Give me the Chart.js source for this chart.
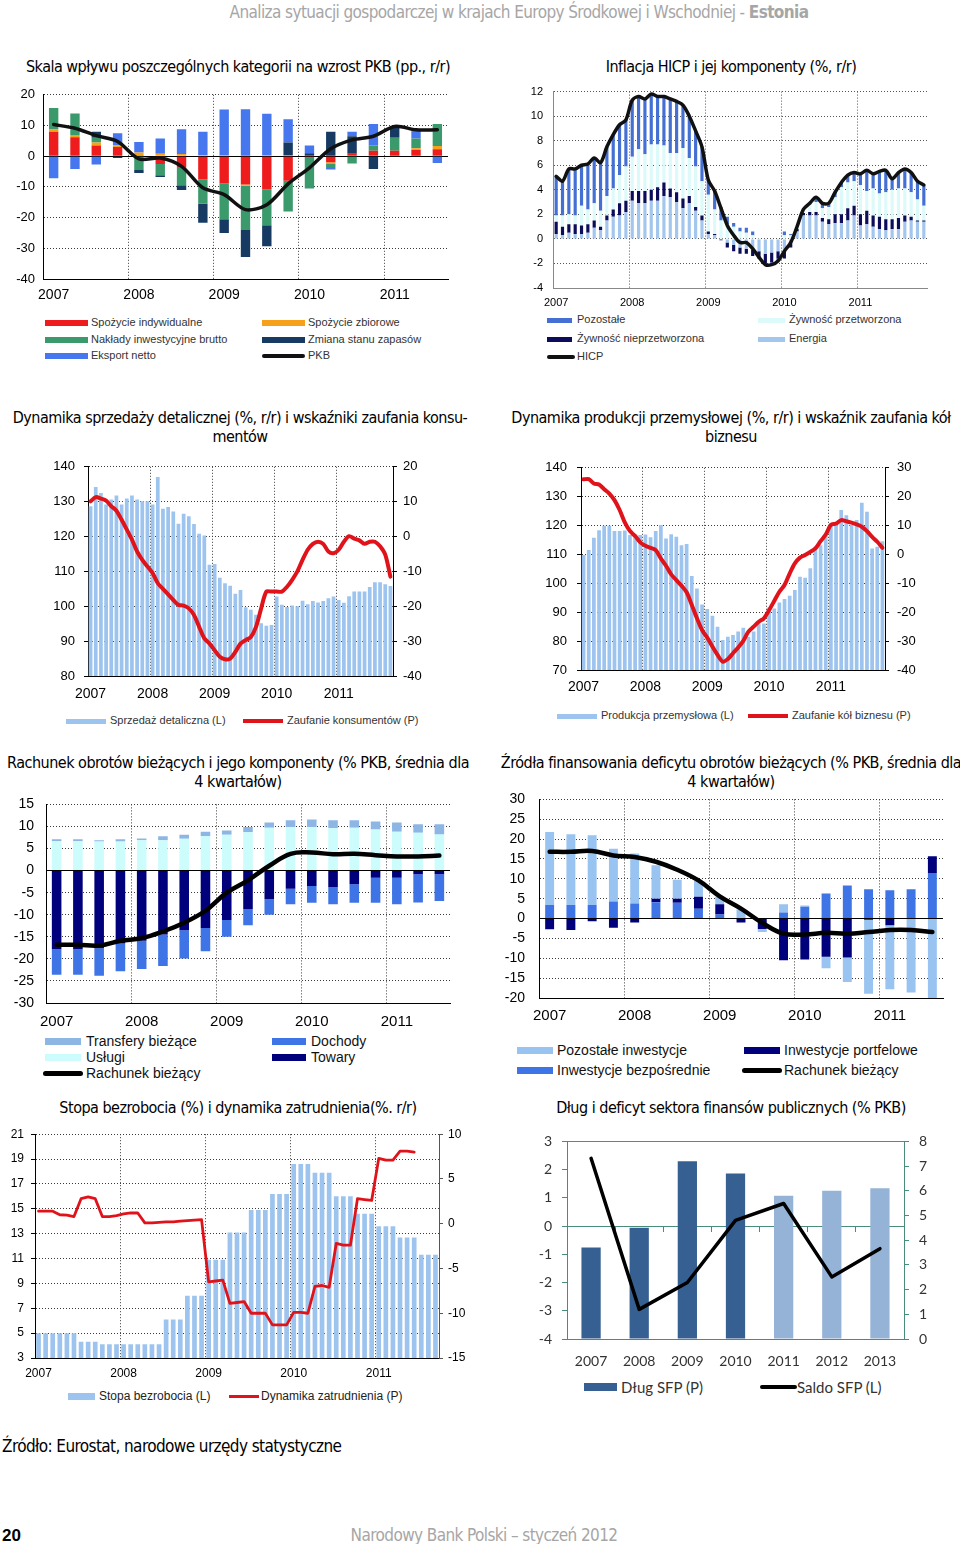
<!DOCTYPE html>
<html lang="pl">
<head>
<meta charset="utf-8">
<title>Estonia</title>
<script src="https://cdn.jsdelivr.net/npm/chart.js@4.4.1/dist/chart.umd.min.js"></script>
<style>
  html, body { margin: 0; padding: 0; background: #fff; }
  body { width: 960px; height: 1544px; position: relative; overflow: hidden; font-family: 'Liberation Sans', Arial, sans-serif; }
  .t { position: absolute; white-space: nowrap; font-family: 'Liberation Sans Narrow', 'DejaVu Sans Condensed', 'Liberation Sans', sans-serif; font-size: 16px; line-height: 19px; color: #000; text-align: center; letter-spacing: -0.5px; }
  .big { font-size: 17px; letter-spacing: -0.6px; }
  canvas { position: absolute; }
  .lg { position: absolute; white-space: nowrap; }
  .sw { position: absolute; }
</style>
</head>
<body>
<div class="t big" style="left:0;width:1038px;top:3px;color:#a6a6a6;">Analiza sytuacji gospodarczej w krajach Europy Środkowej i Wschodniej - <b>Estonia</b></div>

<div class="t" style="left:-62px;width:600px;top:57px;">Skala wpływu poszczególnych kategorii na wzrost PKB (pp., r/r)</div>
<div class="t" style="left:431px;width:600px;top:57px;">Inflacja HICP i jej komponenty (%, r/r)</div>
<div class="t" style="left:-60px;width:600px;top:408px;">Dynamika sprzedaży detalicznej (%, r/r) i wskaźniki zaufania konsu-<br>mentów</div>
<div class="t" style="left:431px;width:600px;top:408px;">Dynamika produkcji przemysłowej (%, r/r) i wskaźnik zaufania kół<br>biznesu</div>
<div class="t" style="left:-62px;width:600px;top:753px;">Rachunek obrotów bieżących i jego komponenty (% PKB, średnia dla<br>4 kwartałów)</div>
<div class="t" style="left:431px;width:600px;top:753px;">Źródła finansowania deficytu obrotów bieżących (% PKB, średnia dla<br>4 kwartałów)</div>
<div class="t" style="left:-62px;width:600px;top:1098px;">Stopa bezrobocia (%) i dynamika zatrudnienia(%. r/r)</div>
<div class="t" style="left:431px;width:600px;top:1098px;">Dług i deficyt sektora finansów publicznych (% PKB)</div>

<div class="t big" style="left:2px;top:1437px;text-align:left;">Źródło: Eurostat, narodowe urzędy statystyczne</div>
<div class="t big" style="left:2px;top:1526px;font-weight:bold;text-align:left;letter-spacing:0;font-family:'Liberation Sans',sans-serif;">20</div>
<div class="t big" style="left:184px;width:600px;top:1526px;color:#a6a6a6;">Narodowy Bank Polski – styczeń 2012</div>

<script>
// ---------- categories ----------
const years5 = ['2007', '2008', '2009', '2010', '2011'];
const years8 = ['2007', '2008', '2009', '2010', '2011', '2012', '2013'];

function quarterLabels(startYear, count) {
    const out = [];
    for (let i = 0; i < count; i++) out.push((startYear + Math.floor(i / 4)) + ' Q' + (i % 4 + 1));
    return out;
}
function monthLabels(startYear, count) {
    const out = [];
    for (let i = 0; i < count; i++) out.push((startYear + Math.floor(i / 12)) + '-' + String(i % 12 + 1).padStart(2, '0'));
    return out;
}
const quarters19 = quarterLabels(2007, 19);
const months59 = monthLabels(2007, 59);
const months57 = monthLabels(2007, 57);

// ---------- 1. PKB contributions (pp.) ----------
const spozycieInd = [8.0, 6.2, 3.5, 3.0, 0.3, -2.5, -3.5, -7.5, -8.8, -9.2, -10.8, -8.0, -0.5, -2.0, 0.8, 1.8, 1.8, 2.0, 2.3];
const spozycieZb = [0.7, 0.7, 1.0, 0.6, 0.9, 0.8, 0.7, 0.4, 0.2, -0.4, 0.2, 0.2, 0.0, -0.5, 0.0, 0.0, 0.0, 0.6, 1.0];
const naklady = [7.0, 7.0, 1.5, 0.0, -4.5, -3.7, -6.0, -8.0, -11.7, -14.4, -11.7, -10.0, -10.0, -1.0, -2.4, 1.7, 4.2, 3.2, 7.2];
const zapasy = [0.0, 0.0, 2.0, -0.6, -1.0, -0.6, -1.5, -6.2, -4.5, -8.8, -6.8, 4.3, 1.0, 8.0, 5.7, -4.2, 3.5, 0.0, 0.0];
const eksportNetto = [-7.2, -4.2, -2.7, 3.9, 3.4, 5.0, 8.1, 7.6, 15.0, 15.3, 13.6, 7.5, 2.5, -0.8, 1.5, 7.0, 0.0, 2.7, -2.2];
const pkb = [10.3, 9.1, 6.7, 4.8, -0.9, -0.6, -3.3, -10.3, -12.5, -17.4, -15.8, -9.0, -3.8, 2.4, 5.3, 6.5, 9.7, 8.6, 8.6];

// ---------- 2. HICP components (%) ----------
const energia = [0.4, 0.3, 0.5, 0.4, 0.4, 0.5, 0.9, 0.7, 1.5, 1.8, 1.9, 2.2,
    3.1, 2.9, 2.9, 3.1, 3.1, 3.5, 3.4, 3.0, 2.5, 2.9, 2.3, 1.5,
    0.4, 0.3, 0.0, -0.3, -0.5, -0.7, -0.8, -0.9, -1.0, -1.2, -1.1, -1.0,
    -1.0, -0.4, 0.6, 1.9, 1.9, 1.9, 1.4, 1.2, 1.3, 1.3, 1.5, 1.9,
    1.1, 1.2, 1.0, 0.8, 0.7, 0.8, 0.8, 1.4, 1.5, 1.4, 1.4];
const zywnoscNieprz = [1.0, 0.7, 0.7, 0.8, 0.7, 0.7, 0.6, 0.3, 0.4, 0.6, 1.0, 0.9,
    0.8, 1.0, 1.0, 0.9, 1.1, 1.1, 0.7, 0.8, 0.8, 0.6, 0.3, 0.4,
    0.2, 0.1, -0.1, -0.4, -0.5, -0.5, -0.4, -0.5, -0.6, -0.8, -0.8, -0.6,
    -0.6, -0.3, 0.2, 0.2, 0.3, 0.3, 0.3, 0.4, 0.7, 0.7, 1.0, 0.8,
    0.9, 1.1, 0.9, 1.0, 0.9, 0.8, 0.9, 0.5, 0.3, 0.1, 0.1];
const zywnoscPrzetw = [0.5, 0.9, 0.8, 0.7, 1.6, 1.2, 1.4, 1.3, 1.6, 1.7, 2.3, 2.8,
    2.8, 3.4, 3.0, 3.7, 3.5, 3.0, 2.9, 3.2, 4.1, 3.1, 3.3, 2.8,
    3.0, 2.0, 1.5, 1.2, 1.0, 0.6, 0.5, 0.3, 0.1, 0.0, 0.0, 0.0,
    0.3, 0.3, 0.2, 0.3, 0.6, 0.8, 0.8, 1.0, 1.4, 2.2, 2.1, 2.0,
    2.4, 1.6, 2.2, 1.9, 2.2, 2.4, 2.4, 2.2, 2.0, 1.7, 1.2];
const pozostale = [3.2, 2.8, 3.7, 3.8, 3.3, 3.7, 3.7, 3.9, 4.0, 4.4, 4.1, 3.8,
    4.6, 4.3, 4.5, 4.1, 3.9, 4.0, 4.4, 4.2, 3.5, 3.4, 2.9, 2.8,
    1.2, 1.5, 1.1, 0.6, 0.3, 0.3, 0.4, 0.3, 0.0, -0.1, -0.2, -0.2,
    0.3, 0.1, 0.0, 0.0, 0.1, 0.4, 0.4, 0.3, 0.4, 0.4, 0.6, 0.7,
    0.9, 1.7, 1.2, 1.8, 1.8, 0.9, 1.3, 1.6, 1.6, 1.5, 1.7];
const hicp = [5.1, 4.7, 5.7, 5.7, 6.0, 6.1, 6.6, 6.2, 7.5, 8.5, 9.3, 9.7,
    11.3, 11.6, 11.4, 11.8, 11.6, 11.6, 11.4, 11.2, 10.9, 10.0, 8.8, 7.5,
    4.8, 3.9, 2.5, 1.1, 0.3, -0.3, -0.3, -0.8, -1.5, -2.1, -2.1, -1.8,
    -1.0, -0.3, 1.0, 2.4, 2.9, 3.4, 2.9, 2.9, 3.8, 4.6, 5.2, 5.4,
    5.3, 5.6, 5.3, 5.5, 5.6, 4.9, 5.4, 5.7, 5.4, 4.7, 4.4];

// ---------- 3. retail sales and consumer confidence ----------
const sprzedaz = [128.7, 134.2, 132.5, 129.2, 130.6, 131.8, 129.2, 130.9, 131.8, 130.6, 130.1, 130.1,
    129.2, 137.1, 128.0, 128.5, 127.2, 123.7, 126.5, 125.8, 123.6, 120.8, 120.3, 111.9,
    112.1, 108.2, 106.6, 105.9, 103.6, 104.7, 99.7, 99.0, 97.6, 95.1, 94.4, 94.6,
    102.8, 100.4, 99.8, 100.2, 100.0, 101.6, 100.6, 101.5, 101.1, 101.5, 102.3, 102.8,
    101.8, 101.0, 102.9, 104.2, 104.2, 104.2, 105.5, 106.9, 106.9, 106.3, 105.8];
const zaufanieKons = [10.1, 11.3, 10.9, 10.3, 8.7, 7.4, 4.8, 2.0, -0.9, -4.3, -6.7, -8.6,
    -10.5, -13.4, -15.0, -16.6, -18.2, -19.6, -19.8, -20.6, -22.5, -25.9, -29.2, -30.7,
    -32.6, -34.5, -35.2, -35.0, -33.1, -30.7, -29.7, -28.8, -25.9, -20.6, -15.8, -15.8,
    -15.8, -15.8, -14.4, -12.4, -10.0, -6.7, -3.8, -2.1, -1.5, -2.1, -4.3, -4.8,
    -3.8, -1.5, 0.1, -0.6, -1.1, -2.1, -1.5, -1.5, -2.8, -5.2, -11.5];

// ---------- 4. industrial production and business confidence ----------
const produkcja = [109.8, 111.5, 115.8, 118.4, 119.9, 119.9, 118.1, 118.1, 118.3, 116.7, 116.1, 116.7,
    116.9, 116.0, 118.1, 120.2, 115.5, 117.0, 116.1, 113.2, 113.6, 102.5, 98.2, 92.7,
    91.1, 88.8, 85.0, 80.4, 81.5, 82.1, 83.3, 84.6, 81.5, 83.3, 86.1, 86.1,
    91.6, 91.3, 93.4, 94.6, 95.7, 97.7, 102.3, 101.9, 105.2, 112.7, 113.2, 116.7,
    120.7, 121.3, 125.4, 123.6, 120.2, 121.9, 127.9, 124.8, 112.1, 112.7, 114.6];
const zaufanieBiz = [26.0, 26.1, 24.6, 24.2, 22.6, 21.1, 18.8, 15.4, 11.1, 8.1, 6.4, 4.2,
    3.0, 2.3, 1.5, -1.4, -3.9, -6.9, -8.9, -10.8, -13.1, -17.5, -22.1, -26.2,
    -28.8, -31.9, -34.8, -37.1, -36.2, -34.2, -32.2, -29.9, -26.7, -25.0, -23.3, -22.1,
    -19.3, -16.1, -12.9, -10.6, -6.6, -3.1, -1.1, -0.2, 0.9, 2.1, 4.6, 6.9,
    10.2, 10.7, 11.9, 11.5, 11.0, 10.4, 9.6, 8.1, 6.1, 4.4, 2.3];

// ---------- 5. current account components (% PKB, 4Q avg) ----------
const uslugi = [6.7, 6.7, 6.6, 6.6, 6.9, 6.9, 7.2, 7.8, 8.1, 8.7, 9.7, 9.9, 9.9, 9.6, 9.7, 9.3, 8.8, 8.6, 8.2];
const transfery = [0.4, 0.4, 0.3, 0.5, 0.4, 0.9, 0.9, 1.0, 1.0, 1.2, 1.2, 1.5, 1.7, 1.8, 1.7, 1.8, 2.1, 1.9, 2.3];
const towary = [-17.8, -17.8, -17.6, -16.5, -15.9, -14.5, -13.5, -13.0, -11.2, -8.7, -6.5, -4.1, -3.5, -3.8, -3.1, -1.6, -1.6, -0.8, -0.8];
const dochody = [-5.8, -5.8, -6.2, -6.3, -6.4, -7.1, -6.4, -5.3, -3.8, -3.7, -3.5, -3.5, -3.8, -3.8, -4.2, -5.7, -6.0, -6.4, -6.1];
const rachunekBiezacy = [-16.8, -16.8, -17.0, -15.9, -15.3, -13.8, -11.8, -9.1, -5.0, -2.2, 1.1, 3.8, 4.1, 3.7, 3.8, 3.5, 3.2, 3.2, 3.4];

// ---------- 6. financing of the CA deficit (% PKB, 4Q avg) ----------
const invBezposrednie = [3.4, 3.4, 3.4, 4.3, 3.8, 4.1, 4.0, 2.5, 1.0, 0.0, 0.0, 1.5, 3.0, 6.3, 8.3, 7.4, 7.1, 7.4, 11.5];
const invPortfelowe = [-2.7, -2.9, -0.7, -2.3, -1.0, 0.9, 1.0, 3.0, 2.6, -1.0, -2.6, -10.5, -10.3, -9.6, -9.8, -0.3, -1.7, 0.0, 4.2];
const invPozostale = [18.4, 17.8, 17.6, 13.3, 12.6, 8.4, 4.8, 4.0, 1.9, 2.3, -0.8, 2.1, 0.3, -2.9, -6.2, -18.6, -16.1, -18.6, -20.0];
const rachunekFin = [16.8, 16.8, 17.0, 15.9, 15.5, 14.3, 12.3, 9.6, 5.6, 2.5, -1.1, -3.8, -4.0, -3.6, -3.8, -3.4, -2.9, -2.9, -3.4];

// ---------- 7. unemployment rate and employment growth ----------
const bezrobocie = [5.0, 5.0, 5.0, 5.0, 5.0, 5.0, 4.3, 4.3, 4.3, 4.1, 4.1, 4.1,
    4.1, 4.1, 4.1, 4.1, 4.1, 4.1, 6.1, 6.1, 6.1, 8.0, 8.0, 8.0,
    10.9, 10.9, 10.9, 13.1, 13.1, 13.1, 14.9, 14.9, 14.9, 16.2, 16.2, 16.2,
    18.6, 18.6, 18.6, 17.9, 17.9, 17.9, 16.0, 16.0, 16.0, 14.6, 14.6, 14.6,
    13.6, 13.6, 13.6, 12.7, 12.7, 12.7, 11.3, 11.3, 11.3];
const zatrudnienie = [1.4, 1.4, 1.4, 1.0, 0.95, 0.8, 2.8, 3.0, 2.8, 0.8, 0.8, 0.9,
    1.1, 1.2, 1.2, 0.1, 0.1, 0.15, 0.2, 0.2, 0.3, 0.35, 0.4, 0.45,
    -6.5, -6.4, -6.3, -8.9, -8.8, -8.7, -10.0, -10.0, -10.0, -11.3, -11.3, -11.3,
    -9.9, -9.9, -10.0, -7.0, -6.9, -7.1, -2.2, -2.4, -2.4, 2.8, 2.7, 2.6,
    7.3, 7.1, 7.1, 8.1, 8.1, 8.0, null, null, null];

// ---------- 8. public finances (% PKB) ----------
const dlugSFP = [3.7, 4.5, 7.2, 6.7, 5.8, 6.0, 6.1];
const saldoSFP = [2.4, -2.95, -2.0, 0.2, 0.8, -1.8, -0.8];
const dlugColors = ['#376092', '#376092', '#376092', '#376092', '#95b3d7', '#95b3d7', '#95b3d7'];

// ---------- helpers ----------
Chart.defaults.font.family = "'Liberation Sans', Arial, sans-serif";
Chart.defaults.color = '#000';
Chart.defaults.animation = false;
Chart.defaults.plugins.legend.display = false;
Chart.defaults.plugins.tooltip.enabled = false;

const GRID = '#3a3a3a';
const DOT = [1, 2];
const TEAL = '#4a8c7c';

// place the canvas so that the plot area lands on box (page coordinates)
function build(box, cfg, hasRight) {
    const c = document.createElement('canvas');
    let w = box.x1 - box.x0 + box.ml + box.mr;
    let h = box.y1 - box.y0 + box.mt + box.mb;
    let left = box.x0 - box.ml;
    let top = box.y0 - box.mt;
    c.width = w;
    c.height = h;
    c.style.left = left + 'px';
    c.style.top = top + 'px';
    c.style.width = w + 'px';
    c.style.height = h + 'px';
    document.body.appendChild(c);
    cfg.options.responsive = false;
    cfg.options.maintainAspectRatio = false;
    cfg.options.layout = { padding: { top: box.mt, left: 0, right: hasRight ? 0 : box.mr, bottom: 0 } };
    const chart = new Chart(c, cfg);

    // the layout may push the plot area around a bit: move/grow the canvas to compensate
    for (let k = 0; k < 3; k++) {
        const ca = chart.chartArea;
        const eTop = Math.round(top + ca.top - box.y0);
        const eLeft = Math.round(left + ca.left - box.x0);
        const eBottom = Math.round(box.y1 - (top + ca.bottom));
        const eRight = Math.round(box.x1 - (left + ca.right));
        if (!eTop && !eLeft && !eBottom && !eRight) break;
        top -= eTop;
        left -= eLeft;
        h += eTop + eBottom;
        w += eLeft + eRight;
        c.style.left = left + 'px';
        c.style.top = top + 'px';
        chart.resize(w, h);
    }
    return chart;
}

function bar(label, data, color, bp) {
    return { label, data, backgroundColor: color, barPercentage: bp, categoryPercentage: 1, order: 1 };
}

function line(label, data, color, width, tension, axis) {
    return {
        type: 'line', label, data, borderColor: color, borderWidth: width, tension,
        pointRadius: 0, fill: false, order: 0, stack: 'line', yAxisID: axis || 'y',
        borderCapStyle: 'round', borderJoinStyle: 'round'
    };
}

function xCat(years, per, o) {
    return {
        stacked: !!o.stacked,
        offset: true,
        grid: {
            offset: true, drawTicks: false, lineWidth: 1,
            color: ctx => (ctx.index > 0 && ctx.index % per === 0) ? (o.grid || GRID) : 'transparent'
        },
        border: { color: o.axis || '#000', dash: DOT },
        ticks: {
            autoSkip: false, maxRotation: 0, minRotation: 0, padding: o.pad,
            font: { size: o.size }, color: o.color || '#000',
            callback: (v, i) => i % per === 0 ? years[i / per] : ''
        },
        afterFit: s => { s.height = o.mb; }
    };
}

function yLin(o) {
    const isZero = ctx => o.zero && ctx.tick && ctx.tick.value === 0;
    return {
        type: 'linear', position: o.pos || 'left', stacked: !!o.stacked,
        min: o.min, max: o.max,
        ticks: { stepSize: o.step, padding: o.pad, font: { size: o.size }, color: o.color || '#000' },
        grid: {
            drawOnChartArea: o.grid !== false,
            drawTicks: !!o.tick, tickLength: o.tick || 0, tickColor: o.axis || '#000',
            color: ctx => isZero(ctx) ? o.zero : (o.gridColor || GRID),
            lineWidth: 1
        },
        border: { color: o.axis || '#000', dash: ctx => isZero(ctx) ? [] : DOT },
        afterFit: s => { s.width = o.w; }
    };
}

// HTML legend: swatch + text
function legend(items, fs, font, color) {
    for (const it of items) {
        const s = document.createElement('div');
        s.className = 'sw';
        s.style.cssText = `left:${it.x}px;top:${it.y - it.h / 2}px;width:${it.w}px;height:${it.h}px;background:${it.c};` +
            (it.round ? `border-radius:${it.h / 2}px;` : '');
        document.body.appendChild(s);
        const t = document.createElement('div');
        t.className = 'lg';
        t.textContent = it.t;
        t.style.cssText = `left:${it.tx}px;top:${it.y - fs * 0.6}px;font-size:${fs}px;line-height:${fs * 1.2}px;` +
            `color:${color};font-family:${font};`;
        document.body.appendChild(t);
    }
}

const ARIAL = "'Liberation Sans', Arial, sans-serif";

// ---------- chart 1 ----------
build({ x0: 43, y0: 95, x1: 448, y1: 279, ml: 40, mr: 8, mt: 12, mb: 30 }, {
    type: 'bar',
    data: {
        labels: quarters19,
        datasets: [
            line('PKB', pkb, '#111', 3.5, 0.3),
            bar('Spożycie indywidualne', spozycieInd, '#ee1c1c', 0.44),
            bar('Spożycie zbiorowe', spozycieZb, '#f7a01a', 0.44),
            bar('Nakłady inwestycyjne brutto', naklady, '#3a9a6c', 0.44),
            bar('Zmiana stanu zapasów', zapasy, '#173a63', 0.44),
            bar('Eksport netto', eksportNetto, '#4677ee', 0.44)
        ]
    },
    options: {
        scales: {
            x: xCat(years5, 4, { stacked: true, pad: 8, size: 14, mb: 30 }),
            y: yLin({ stacked: true, min: -40, max: 20, step: 10, pad: 8, size: 13, w: 40, zero: '#000' })
        }
    }
});
legend([
    { x: 45, y: 323, w: 43, h: 6, c: '#ee1c1c', tx: 91, t: 'Spożycie indywidualne' },
    { x: 262, y: 323, w: 43, h: 6, c: '#f7a01a', tx: 308, t: 'Spożycie zbiorowe' },
    { x: 45, y: 340, w: 43, h: 6, c: '#3a9a6c', tx: 91, t: 'Nakłady inwestycyjne brutto' },
    { x: 262, y: 340, w: 43, h: 6, c: '#173a63', tx: 308, t: 'Zmiana stanu zapasów' },
    { x: 45, y: 356, w: 43, h: 6, c: '#4677ee', tx: 91, t: 'Eksport netto' },
    { x: 262, y: 356, w: 43, h: 4, c: '#111', tx: 308, t: 'PKB', round: true }
], 11, ARIAL, '#333');

// ---------- chart 2 ----------
build({ x0: 553, y0: 92, x1: 927, y1: 288, ml: 40, mr: 8, mt: 10, mb: 24 }, {
    type: 'bar',
    data: {
        labels: months59,
        datasets: [
            line('HICP', hicp, '#111', 3.5, 0.3),
            bar('Energia', energia, '#a3c6ee', 0.5),
            bar('Żywność nieprzetworzona', zywnoscNieprz, '#0c0c5a', 0.5),
            bar('Żywność przetworzona', zywnoscPrzetw, '#dcfafa', 0.5),
            bar('Pozostałe', pozostale, '#4470d4', 0.5)
        ]
    },
    options: {
        scales: {
            x: xCat(years5, 12, { stacked: true, pad: 8, size: 11, mb: 24, axis: '#888', grid: '#555' }),
            y: yLin({ stacked: true, min: -4, max: 12, step: 2, pad: 10, size: 11, w: 40, axis: '#888', gridColor: '#555' })
        }
    }
});
legend([
    { x: 547, y: 320, w: 25, h: 5, c: '#4470d4', tx: 577, t: 'Pozostałe' },
    { x: 758, y: 320, w: 27, h: 5, c: '#dcfafa', tx: 789, t: 'Żywność przetworzona' },
    { x: 547, y: 339, w: 25, h: 5, c: '#0c0c5a', tx: 577, t: 'Żywność nieprzetworzona' },
    { x: 758, y: 339, w: 27, h: 5, c: '#a3c6ee', tx: 789, t: 'Energia' },
    { x: 547, y: 357, w: 28, h: 4, c: '#111', tx: 577, t: 'HICP', round: true }
], 11, ARIAL, '#333');

// ---------- chart 3 ----------
build({ x0: 88, y0: 467, x1: 393, y1: 676, ml: 45, mr: 40, mt: 12, mb: 28 }, {
    type: 'bar',
    data: {
        labels: months59,
        datasets: [
            line('Zaufanie konsumentów (P)', zaufanieKons, '#e0131b', 4, 0.3, 'y1'),
            bar('Sprzedaż detaliczna (L)', sprzedaz, '#9dc4ee', 0.72)
        ]
    },
    options: {
        scales: {
            x: xCat(years5, 12, { pad: 10, size: 14, mb: 28 }),
            y: yLin({ min: 80, max: 140, step: 10, pad: 9, size: 13, w: 45, tick: 4 }),
            y1: yLin({ pos: 'right', min: -40, max: 20, step: 10, pad: 6, size: 13, w: 40, tick: 4, grid: false })
        }
    }
}, true);
legend([
    { x: 66, y: 721, w: 40, h: 5, c: '#9dc4ee', tx: 110, t: 'Sprzedaż detaliczna (L)' },
    { x: 243, y: 721, w: 40, h: 4, c: '#e0131b', tx: 287, t: 'Zaufanie konsumentów (P)' }
], 11, ARIAL, '#333');

// ---------- chart 4 ----------
build({ x0: 581, y0: 468, x1: 885, y1: 670, ml: 45, mr: 40, mt: 12, mb: 28 }, {
    type: 'bar',
    data: {
        labels: months59,
        datasets: [
            line('Zaufanie kół biznesu (P)', zaufanieBiz, '#e0131b', 4, 0.3, 'y1'),
            bar('Produkcja przemysłowa (L)', produkcja, '#9dc4ee', 0.72)
        ]
    },
    options: {
        scales: {
            x: xCat(years5, 12, { pad: 9, size: 14, mb: 28 }),
            y: yLin({ min: 70, max: 140, step: 10, pad: 10, size: 13, w: 45, tick: 4 }),
            y1: yLin({ pos: 'right', min: -40, max: 30, step: 10, pad: 8, size: 13, w: 40, tick: 4, grid: false })
        }
    }
}, true);
legend([
    { x: 557, y: 716, w: 40, h: 5, c: '#9dc4ee', tx: 601, t: 'Produkcja przemysłowa (L)' },
    { x: 748, y: 716, w: 40, h: 4, c: '#e0131b', tx: 792, t: 'Zaufanie kół biznesu (P)' }
], 11, ARIAL, '#333');

// ---------- chart 5 ----------
build({ x0: 46, y0: 804, x1: 450, y1: 1003, ml: 42, mr: 8, mt: 10, mb: 30 }, {
    type: 'bar',
    data: {
        labels: quarters19,
        datasets: [
            line('Rachunek bieżący', rachunekBiezacy, '#000', 4.5, 0.4),
            bar('Usługi', uslugi, '#ccfcfc', 0.45),
            bar('Transfery bieżące', transfery, '#8db6e4', 0.45),
            bar('Towary', towary, '#00007c', 0.45),
            bar('Dochody', dochody, '#3f74e6', 0.45)
        ]
    },
    options: {
        scales: {
            x: xCat(years5, 4, { stacked: true, pad: 10, size: 15, mb: 30 }),
            y: yLin({ stacked: true, min: -30, max: 15, step: 5, pad: 12, size: 14, w: 42, zero: '#000' })
        }
    }
});
legend([
    { x: 45, y: 1041, w: 36, h: 7, c: '#8db6e4', tx: 86, t: 'Transfery bieżące' },
    { x: 272, y: 1041, w: 34, h: 7, c: '#3f74e6', tx: 311, t: 'Dochody' },
    { x: 45, y: 1057, w: 36, h: 7, c: '#ccfcfc', tx: 86, t: 'Usługi' },
    { x: 272, y: 1057, w: 34, h: 7, c: '#00007c', tx: 311, t: 'Towary' },
    { x: 43, y: 1073, w: 40, h: 5, c: '#000', tx: 86, t: 'Rachunek bieżący', round: true }
], 14, ARIAL, '#111');

// ---------- chart 6 ----------
build({ x0: 539, y0: 799, x1: 943, y1: 998, ml: 42, mr: 8, mt: 10, mb: 30 }, {
    type: 'bar',
    data: {
        labels: quarters19,
        datasets: [
            line('Rachunek bieżący', rachunekFin, '#000', 4.5, 0.4),
            bar('Inwestycje bezpośrednie', invBezposrednie, '#3f74e6', 0.42),
            bar('Inwestycje portfelowe', invPortfelowe, '#00007c', 0.42),
            bar('Pozostałe inwestycje', invPozostale, '#99c3f0', 0.42)
        ]
    },
    options: {
        scales: {
            x: xCat(years5, 4, { stacked: true, pad: 9, size: 15, mb: 30 }),
            y: yLin({ stacked: true, min: -20, max: 30, step: 5, pad: 14, size: 14, w: 42, zero: '#000' })
        }
    }
});
legend([
    { x: 517, y: 1050, w: 36, h: 7, c: '#99c3f0', tx: 557, t: 'Pozostałe inwestycje' },
    { x: 744, y: 1050, w: 36, h: 7, c: '#00007c', tx: 784, t: 'Inwestycje portfelowe' },
    { x: 517, y: 1070, w: 36, h: 7, c: '#3f74e6', tx: 557, t: 'Inwestycje bezpośrednie' },
    { x: 742, y: 1070, w: 40, h: 5, c: '#000', tx: 784, t: 'Rachunek bieżący', round: true }
], 14, ARIAL, '#111');

// ---------- chart 7 ----------
build({ x0: 35, y0: 1134, x1: 439, y1: 1358, ml: 33, mr: 35, mt: 10, mb: 24 }, {
    type: 'bar',
    data: {
        labels: months57,
        datasets: [
            line('Dynamika zatrudnienia (P)', zatrudnienie, '#e0131b', 2.8, 0, 'y1'),
            bar('Stopa bezrobocia (L)', bezrobocie, '#9dc4ee', 0.66)
        ]
    },
    options: {
        scales: {
            x: xCat(years5, 12, { pad: 8, size: 12, mb: 24 }),
            y: yLin({ min: 3, max: 21, step: 2, pad: 7, size: 12, w: 33, tick: 4 }),
            y1: yLin({ pos: 'right', min: -15, max: 10, step: 5, pad: 5, size: 12, w: 35, tick: 4, grid: false, axis: '#555' })
        }
    }
}, true);
legend([
    { x: 68, y: 1396, w: 27, h: 7, c: '#9dc4ee', tx: 99, t: 'Stopa bezrobocia (L)' },
    { x: 229, y: 1396, w: 30, h: 3, c: '#e0131b', tx: 261, t: 'Dynamika zatrudnienia (P)' }
], 12, ARIAL, '#222');

// ---------- chart 8 ----------
const LATO = "Lato, 'Open Sans', sans-serif";
build({ x0: 567, y0: 1141, x1: 904, y1: 1339, ml: 40, mr: 40, mt: 10, mb: 36 }, {
    type: 'bar',
    data: {
        labels: years8,
        datasets: [
            line('Saldo SFP (L)', saldoSFP, '#000', 3.5, 0),
            Object.assign(bar('Dług SFP (P)', dlugSFP, dlugColors, 0.4), { yAxisID: 'y1' })
        ]
    },
    options: {
        scales: {
            x: {
                offset: true,
                grid: { drawOnChartArea: false, drawTicks: false },
                border: { color: TEAL },
                ticks: { padding: 14, font: { size: 14, family: LATO }, color: '#333', maxRotation: 0 },
                afterFit: s => { s.height = 36; }
            },
            // zero line with small ticks between the years
            x2: {
                type: 'category', labels: years8, position: { y: 0 }, offset: true,
                ticks: { display: false },
                grid: { offset: true, drawOnChartArea: false, drawTicks: true, tickLength: 5, tickColor: TEAL },
                border: { color: TEAL }
            },
            // grey frame line along the top of the plot
            xTop: {
                type: 'category', labels: years8, position: 'top', offset: true,
                ticks: { display: false },
                grid: { drawOnChartArea: false, drawTicks: false },
                border: { color: '#7a7a7a', width: 1 },
                afterFit: s => { s.height = 0; }
            },
            y: {
                min: -4, max: 3,
                ticks: { stepSize: 1, padding: 10, font: { size: 14, family: LATO }, color: '#333' },
                grid: { drawOnChartArea: false, drawTicks: true, tickLength: 5, tickColor: TEAL },
                border: { color: TEAL },
                afterFit: s => { s.width = 40; }
            },
            y1: {
                position: 'right', min: 0, max: 8,
                ticks: { stepSize: 1, padding: 10, font: { size: 14, family: LATO }, color: '#333' },
                grid: { drawOnChartArea: false, drawTicks: true, tickLength: 5, tickColor: TEAL },
                border: { color: TEAL },
                afterFit: s => { s.width = 40; }
            }
        }
    }
}, true);
legend([
    { x: 584, y: 1387, w: 33, h: 8, c: '#376092', tx: 621, t: 'Dług SFP (P)' },
    { x: 760, y: 1387, w: 37, h: 4, c: '#000', tx: 797, t: 'Saldo SFP (L)', round: true }
], 15, LATO, '#333');
</script>
</body>
</html>
